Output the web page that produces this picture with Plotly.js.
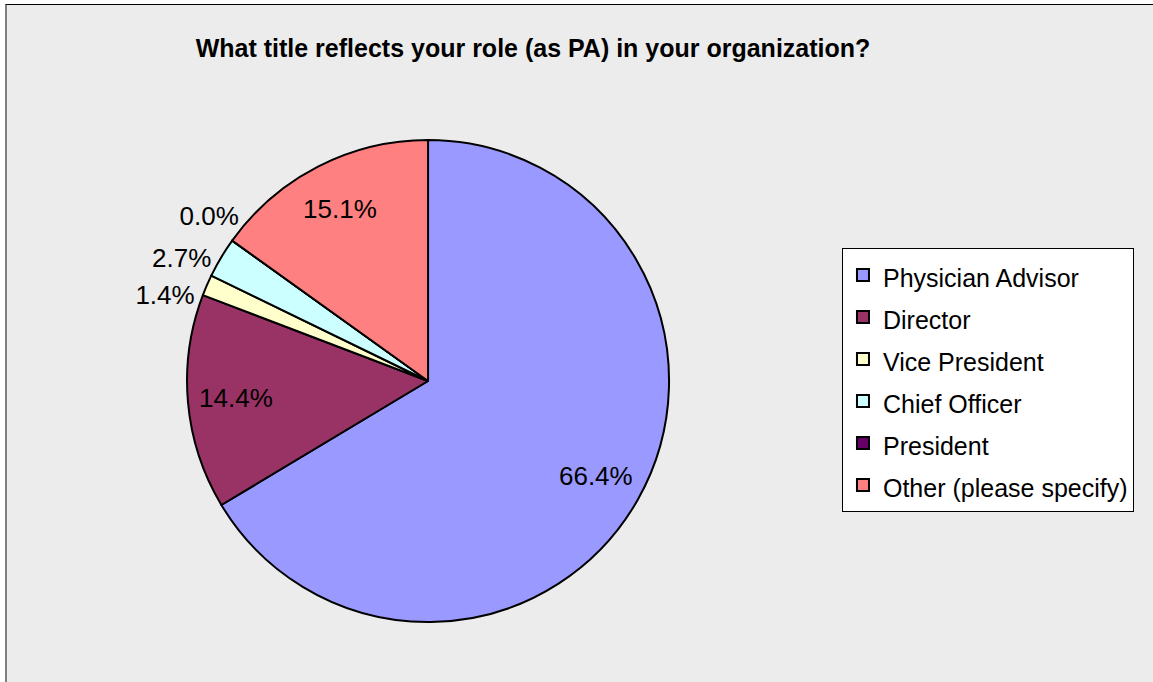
<!DOCTYPE html>
<html>
<head>
<meta charset="utf-8">
<script src="https://cdn.plot.ly/plotly-3.0.1.min.js"></script>
<style>
  html, body { margin: 0; padding: 0; background: #ffffff; }
  #frame { position: absolute; left: 5px; top: 4px; width: 1148px; height: 678px;
           border-top: 1px solid #000000; border-left: 2px solid #808080; box-sizing: border-box; background:#ececec; }
  #chart { width: 1146px; height: 677px; }
  path.textline { stroke-opacity: 0 !important; }
</style>
</head>
<body>
<div id="frame"><div id="chart"></div></div>
<script>
const categories = ["Physician Advisor", "Director", "Vice President", "Chief Officer", "President", "Other (please specify)"];
const percentValues = [66.4, 14.4, 1.4, 2.7, 0.0, 15.1];
const percentLabels = ["66.4%", "14.4%", "1.4%", "2.7%", "0.0%", "15.1%"];
const sliceColors = ["#9999ff", "#993366", "#ffffcc", "#ccffff", "#660066", "#ff8080"];
const labelPlacement = ["inside", "inside", "outside", "outside", "outside", "inside"];
const chartTitle = "What title reflects your role (as PA) in your organization?";

// small angular nudges (degrees) that spread the crowded outside labels like the original
const outsideNudge = [0, 0, -3, -1, 5.4, 0];

const FONT = "Liberation Sans, Arial, sans-serif";
const legendLabels = categories.map(c => '<span style="font-size:25px">' + c + '</span>');
const clear = categories.map(() => "rgba(0,0,0,0)");
const pieDomain = { x: [0.1571, 0.5777], y: [0.0886, 0.8006] };

const common = {
  type: "pie",
  labels: legendLabels,
  values: percentValues,
  text: percentLabels,
  sort: false,
  direction: "clockwise",
  rotation: 0,
  hoverinfo: "skip",
  insidetextorientation: "horizontal",
  textfont: { family: FONT, size: 26, color: "#000000" },
  domain: pieDomain
};

// main pie: slices, outlines, legend
const traces = [Object.assign({}, common, {
  textinfo: "none",
  marker: { colors: sliceColors, line: { color: "#000000", width: 2 } },
  showlegend: true
})];

// inside percentage labels (placed in the outer ring of the pie)
traces.push(Object.assign({}, common, {
  textinfo: "text",
  textposition: labelPlacement.map(p => p === "inside" ? "inside" : "none"),
  hole: 0.6,
  marker: { colors: clear, line: { width: 0 } },
  showlegend: false
}));

// outside percentage labels for the small slices, one helper layer each
labelPlacement.forEach((p, i) => {
  if (p !== "outside") return;
  traces.push(Object.assign({}, common, {
    textinfo: "text",
    textposition: labelPlacement.map((q, j) => j === i ? "outside" : "none"),
    rotation: outsideNudge[i],
    marker: { colors: clear, line: { width: 0 } },
    showlegend: false
  }));
});

const layout = {
  width: 1146, height: 677,
  margin: { l: 0, r: 0, t: 0, b: 0 },
  paper_bgcolor: "#ececec",
  font: { family: FONT, color: "#000000" },
  title: { text: "<b>" + chartTitle + "</b>", font: { size: 25, color: "#000000" },
           x: 0.459, xanchor: "center", xref: "paper", y: 0.9365, yanchor: "middle", yref: "container" },
  showlegend: true,
  legend: {
    x: 0.7286, xanchor: "left", y: 0.6410, yanchor: "top",
    bgcolor: "#ffffff", bordercolor: "#000000", borderwidth: 1,
    font: { size: 30, color: "#000000" },
    traceorder: "normal"
  }
};

Plotly.newPlot("chart", traces, layout, { displayModeBar: false, staticPlot: true });
</script>
</body>
</html>
